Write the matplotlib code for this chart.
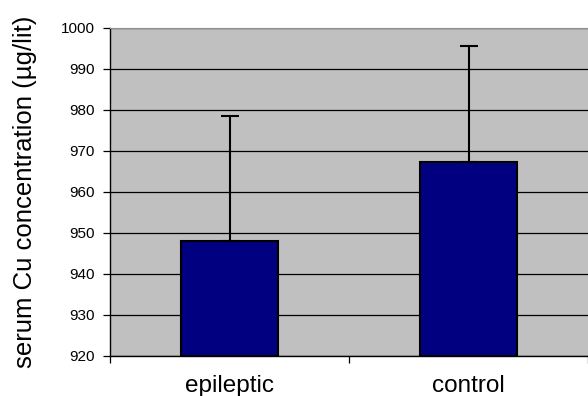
import matplotlib.pyplot as plt

groups = ["epileptic", "control"]
means = [948.0, 967.3]
errors = [30.5, 28.3]
yticks = [920, 930, 940, 950, 960, 970, 980, 990, 1000]

plt.rcParams['font.family'] = ['Liberation Sans', 'DejaVu Sans']

fig = plt.figure(figsize=(5.88, 3.96), dpi=100)
ax = fig.add_axes([110 / 588, 40 / 396, 478 / 588, 328 / 396])
ax.set_facecolor("#c0c0c0")

x = list(range(len(groups)))
ax.bar(x, [m - 920 for m in means], bottom=920, width=0.405,
       color="#000080", edgecolor="black", linewidth=1.5, zorder=3)
ax.errorbar(x, means, yerr=[[0] * len(errors), errors], fmt="none",
            ecolor="black", elinewidth=1.5, capsize=6.5, capthick=1.5, zorder=4)

ax.set_xlim(-0.5, 1.5)
ax.set_ylim(920, 1000)
ax.set_yticks(yticks)
ax.set_yticklabels([str(t) for t in yticks], fontsize=11)
ax.yaxis.grid(True, color="black", linewidth=0.9)
ax.set_axisbelow(True)

# category boundaries carry the ticks, names sit between them
ax.set_xticks([-0.5, 0.5, 1.5])
ax.set_xticklabels([])
ax.set_xticks(x, minor=True)
ax.set_xticklabels(groups, minor=True, fontsize=17.5)
ax.tick_params(axis="x", which="minor", length=0, pad=13.5)
ax.tick_params(axis="x", which="major", length=5, width=0.9)
ax.tick_params(axis="y", length=5, width=0.9, pad=6)

ax.spines["top"].set_color("#909090")
ax.spines["right"].set_visible(False)
ax.spines["left"].set_linewidth(1.0)
ax.spines["bottom"].set_linewidth(1.0)

fig.text(25 / 588, 0.515, "serum Cu concentration (µg/lit)", fontsize=18.5,
         rotation=90, ha="center", va="center")

fig.savefig("out.png", dpi=100)
